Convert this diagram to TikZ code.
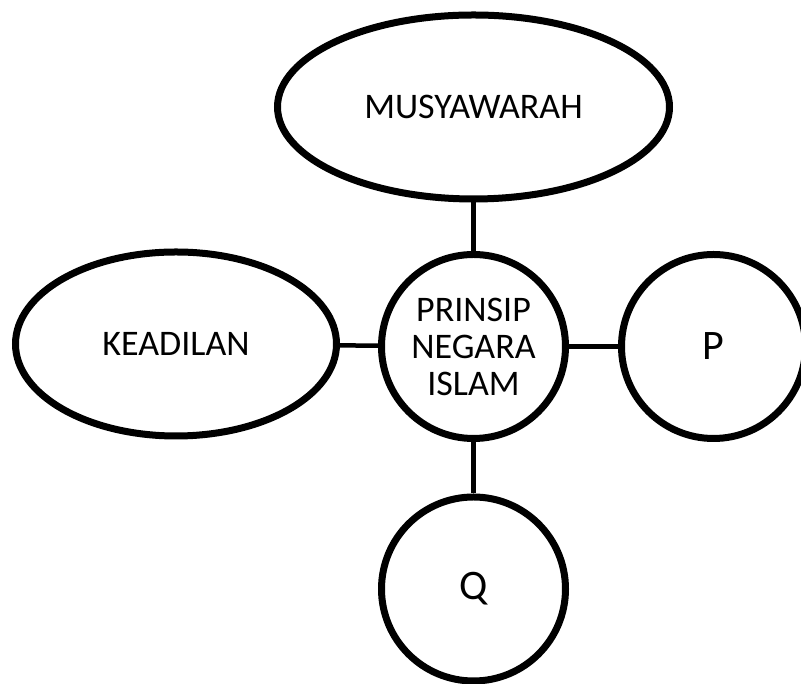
\documentclass[tikz,border=0pt]{standalone}
\usepackage{fontspec}
\setmainfont{Carlito}
\usetikzlibrary{positioning, shapes.geometric}

\begin{document}
\begin{tikzpicture}[x=1pt, y=1pt,
        bulat/.style={circle, draw=black, line width=7pt, fill=white, minimum size=184pt, inner sep=0pt, align=center, font=\fontsize{36}{37}\selectfont},
        lonjong/.style={ellipse, draw=black, line width=7pt, fill=white, minimum height=184pt, inner sep=0pt, font=\fontsize{36}{37}\selectfont},
        huruf/.style={font=\fontsize{42}{44}\selectfont},
        garis/.style={line width=4.5pt, black}]
        \useasboundingbox (0,0) rectangle (801,684);

        % 1. Bulatan tengah
        \node[bulat] (pusat) at (473.5, 337.5) {PRINSIP\\NEGARA\\ISLAM};

        % 2. Bentuk di sekeliling
        \node[lonjong, minimum width=392pt] (musyawarah) at (473.5, 577) {MUSYAWARAH};
        \node[lonjong, minimum width=321pt] (keadilan) at (176, 340) {KEADILAN};
        \node[bulat, huruf] (p) at (713.5, 337.5) {P};
        \node[bulat, huruf] (q) at (473.5, 95) {Q};

        % 3. Garis penghubung
        \draw[garis] (musyawarah) -- (pusat);
        \draw[garis] (keadilan) -- (pusat);
        \draw[garis] (pusat) -- (p);
        \draw[garis] (pusat) -- (q);
    \end{tikzpicture}
\end{document}
